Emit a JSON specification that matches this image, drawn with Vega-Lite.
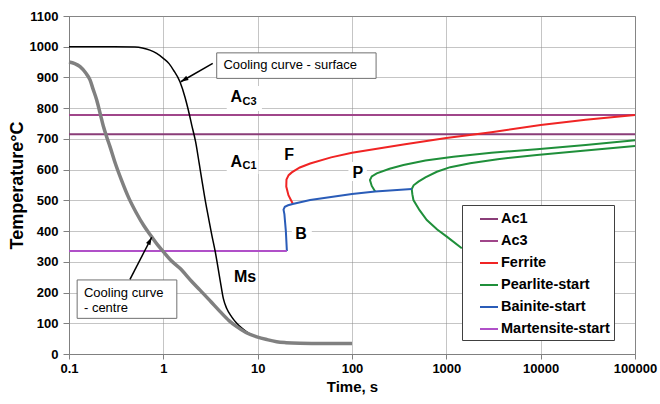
{
  "$schema": "https://vega.github.io/schema/vega-lite/v6.json",
  "width": 566,
  "height": 338,
  "autosize": {"type": "none"},
  "padding": {"left": 69, "top": 16, "right": 25, "bottom": 50},
  "background": "white",
  "config": {
    "font": "Liberation Sans",
    "view": {"stroke": "#808080", "strokeWidth": 1},
    "axis": {
      "gridColor": "#8a8a8a", "gridDash": [1, 1], "gridWidth": 1,
      "domainColor": "#808080", "tickColor": "#808080",
      "labelFont": "Liberation Sans", "labelFontWeight": "bold", "labelFontSize": 13, "labelColor": "#000000",
      "titleFont": "Liberation Sans", "titleFontWeight": "bold", "titleColor": "#000000"
    },
    "legend": {
      "fillColor": "white", "strokeColor": "#404040", "padding": 4,
      "symbolType": "stroke", "symbolSize": 324, "symbolStrokeWidth": 2, "symbolOffset": 13,
      "labelFont": "Liberation Sans", "labelFontSize": 14.5, "labelFontWeight": "bold", "labelColor": "#000000",
      "rowPadding": 5, "labelOffset": 2
    }
  },
  "datasets": {
    "masks": [
      {"t1": 4.7, "t2": 11.1, "T1": 791, "T2": 872},
      {"t1": 4.7, "t2": 10.2, "T1": 586, "T2": 664},
      {"t1": 23, "t2": 37.5, "T1": 368, "T2": 423},
      {"t1": 91.6, "t2": 143.6, "T1": 563, "T2": 625}
    ],
    "boxes": [
      {"t1": 3.68, "t2": 180, "T1": 897, "T2": 980},
      {"t1": 0.122, "t2": 1.39, "T1": 116, "T2": 241}
    ],
    "curves": [
      {"s": "Ac1", "b": "a1", "i": 0, "t": 0.1, "T": 715},
      {"s": "Ac1", "b": "a1", "i": 1, "t": 100000, "T": 715},
      {"s": "Ac3", "b": "a3", "i": 0, "t": 0.1, "T": 778},
      {"s": "Ac3", "b": "a3", "i": 1, "t": 100000, "T": 778},
      {"s": "Ferrite", "b": "f", "i": 0, "t": 23.5, "T": 490},
      {"s": "Ferrite", "b": "f", "i": 1, "t": 21.2, "T": 517},
      {"s": "Ferrite", "b": "f", "i": 2, "t": 20.1, "T": 545},
      {"s": "Ferrite", "b": "f", "i": 3, "t": 20.2, "T": 568},
      {"s": "Ferrite", "b": "f", "i": 4, "t": 21.3, "T": 582},
      {"s": "Ferrite", "b": "f", "i": 5, "t": 23, "T": 591},
      {"s": "Ferrite", "b": "f", "i": 6, "t": 28, "T": 607},
      {"s": "Ferrite", "b": "f", "i": 7, "t": 36, "T": 620},
      {"s": "Ferrite", "b": "f", "i": 8, "t": 60, "T": 640},
      {"s": "Ferrite", "b": "f", "i": 9, "t": 100, "T": 655},
      {"s": "Ferrite", "b": "f", "i": 10, "t": 351, "T": 682},
      {"s": "Ferrite", "b": "f", "i": 11, "t": 1000, "T": 703},
      {"s": "Ferrite", "b": "f", "i": 12, "t": 3000, "T": 722},
      {"s": "Ferrite", "b": "f", "i": 13, "t": 10000, "T": 745},
      {"s": "Ferrite", "b": "f", "i": 14, "t": 30000, "T": 762},
      {"s": "Ferrite", "b": "f", "i": 15, "t": 100000, "T": 778},
      {"s": "Pearlite-start", "b": "p1", "i": 0, "t": 176, "T": 529},
      {"s": "Pearlite-start", "b": "p1", "i": 1, "t": 162, "T": 547},
      {"s": "Pearlite-start", "b": "p1", "i": 2, "t": 155, "T": 566},
      {"s": "Pearlite-start", "b": "p1", "i": 3, "t": 162, "T": 578},
      {"s": "Pearlite-start", "b": "p1", "i": 4, "t": 183, "T": 588},
      {"s": "Pearlite-start", "b": "p1", "i": 5, "t": 250, "T": 603},
      {"s": "Pearlite-start", "b": "p1", "i": 6, "t": 351, "T": 615},
      {"s": "Pearlite-start", "b": "p1", "i": 7, "t": 600, "T": 630},
      {"s": "Pearlite-start", "b": "p1", "i": 8, "t": 1189, "T": 642},
      {"s": "Pearlite-start", "b": "p1", "i": 9, "t": 3000, "T": 655},
      {"s": "Pearlite-start", "b": "p1", "i": 10, "t": 9120, "T": 666},
      {"s": "Pearlite-start", "b": "p1", "i": 11, "t": 30000, "T": 680},
      {"s": "Pearlite-start", "b": "p1", "i": 12, "t": 100000, "T": 696},
      {"s": "Pearlite-start", "b": "p2", "i": 0, "t": 1459, "T": 344},
      {"s": "Pearlite-start", "b": "p2", "i": 1, "t": 1011, "T": 382},
      {"s": "Pearlite-start", "b": "p2", "i": 2, "t": 800, "T": 405},
      {"s": "Pearlite-start", "b": "p2", "i": 3, "t": 621, "T": 436},
      {"s": "Pearlite-start", "b": "p2", "i": 4, "t": 520, "T": 468},
      {"s": "Pearlite-start", "b": "p2", "i": 5, "t": 448, "T": 501},
      {"s": "Pearlite-start", "b": "p2", "i": 6, "t": 436, "T": 520},
      {"s": "Pearlite-start", "b": "p2", "i": 7, "t": 430, "T": 537},
      {"s": "Pearlite-start", "b": "p2", "i": 8, "t": 450, "T": 549},
      {"s": "Pearlite-start", "b": "p2", "i": 9, "t": 506, "T": 561},
      {"s": "Pearlite-start", "b": "p2", "i": 10, "t": 600, "T": 575},
      {"s": "Pearlite-start", "b": "p2", "i": 11, "t": 793, "T": 593},
      {"s": "Pearlite-start", "b": "p2", "i": 12, "t": 1100, "T": 608},
      {"s": "Pearlite-start", "b": "p2", "i": 13, "t": 1786, "T": 621},
      {"s": "Pearlite-start", "b": "p2", "i": 14, "t": 3500, "T": 634},
      {"s": "Pearlite-start", "b": "p2", "i": 15, "t": 9120, "T": 648},
      {"s": "Pearlite-start", "b": "p2", "i": 16, "t": 30000, "T": 662},
      {"s": "Pearlite-start", "b": "p2", "i": 17, "t": 100000, "T": 677},
      {"s": "Bainite-start", "b": "b", "i": 0, "t": 20.4, "T": 335},
      {"s": "Bainite-start", "b": "b", "i": 1, "t": 19.9, "T": 400},
      {"s": "Bainite-start", "b": "b", "i": 2, "t": 19.2, "T": 455},
      {"s": "Bainite-start", "b": "b", "i": 3, "t": 18.8, "T": 470},
      {"s": "Bainite-start", "b": "b", "i": 4, "t": 19.4, "T": 479},
      {"s": "Bainite-start", "b": "b", "i": 5, "t": 21, "T": 484},
      {"s": "Bainite-start", "b": "b", "i": 6, "t": 23.5, "T": 488},
      {"s": "Bainite-start", "b": "b", "i": 7, "t": 36, "T": 501},
      {"s": "Bainite-start", "b": "b", "i": 8, "t": 100, "T": 521},
      {"s": "Bainite-start", "b": "b", "i": 9, "t": 176, "T": 529},
      {"s": "Bainite-start", "b": "b", "i": 10, "t": 430, "T": 537},
      {"s": "Martensite-start", "b": "m", "i": 0, "t": 0.1, "T": 335},
      {"s": "Martensite-start", "b": "m", "i": 1, "t": 20.4, "T": 335}
    ],
    "cooling": [
      {"c": "surface", "t": 0.1, "T": 1000},
      {"c": "surface", "t": 0.3, "T": 1000},
      {"c": "surface", "t": 0.5, "T": 999},
      {"c": "surface", "t": 0.6, "T": 996},
      {"c": "surface", "t": 0.72, "T": 989},
      {"c": "surface", "t": 0.85, "T": 978},
      {"c": "surface", "t": 1.0, "T": 962},
      {"c": "surface", "t": 1.15, "T": 945},
      {"c": "surface", "t": 1.28, "T": 924},
      {"c": "surface", "t": 1.5, "T": 886},
      {"c": "surface", "t": 1.7, "T": 835},
      {"c": "surface", "t": 1.84, "T": 794},
      {"c": "surface", "t": 2.0, "T": 745},
      {"c": "surface", "t": 2.2, "T": 690},
      {"c": "surface", "t": 2.4, "T": 620},
      {"c": "surface", "t": 2.55, "T": 570},
      {"c": "surface", "t": 2.8, "T": 495},
      {"c": "surface", "t": 3.0, "T": 446},
      {"c": "surface", "t": 3.25, "T": 390},
      {"c": "surface", "t": 3.55, "T": 333},
      {"c": "surface", "t": 4.0, "T": 240},
      {"c": "surface", "t": 4.33, "T": 180},
      {"c": "surface", "t": 4.7, "T": 148},
      {"c": "surface", "t": 5.3, "T": 121},
      {"c": "surface", "t": 6.0, "T": 100},
      {"c": "surface", "t": 6.8, "T": 84},
      {"c": "surface", "t": 8.0, "T": 68},
      {"c": "surface", "t": 9.8, "T": 56},
      {"c": "surface", "t": 12.5, "T": 46},
      {"c": "surface", "t": 15.9, "T": 40},
      {"c": "surface", "t": 25, "T": 36},
      {"c": "surface", "t": 50, "T": 34},
      {"c": "surface", "t": 100, "T": 33},
      {"c": "centre", "t": 0.1, "T": 950},
      {"c": "centre", "t": 0.115, "T": 945},
      {"c": "centre", "t": 0.131, "T": 935},
      {"c": "centre", "t": 0.15, "T": 915},
      {"c": "centre", "t": 0.167, "T": 892},
      {"c": "centre", "t": 0.18, "T": 862},
      {"c": "centre", "t": 0.197, "T": 826},
      {"c": "centre", "t": 0.215, "T": 780},
      {"c": "centre", "t": 0.231, "T": 742},
      {"c": "centre", "t": 0.25, "T": 708},
      {"c": "centre", "t": 0.272, "T": 675},
      {"c": "centre", "t": 0.31, "T": 620},
      {"c": "centre", "t": 0.36, "T": 566},
      {"c": "centre", "t": 0.43, "T": 508},
      {"c": "centre", "t": 0.52, "T": 458},
      {"c": "centre", "t": 0.62, "T": 418},
      {"c": "centre", "t": 0.75, "T": 382},
      {"c": "centre", "t": 0.87, "T": 355},
      {"c": "centre", "t": 1.0, "T": 333},
      {"c": "centre", "t": 1.2, "T": 305},
      {"c": "centre", "t": 1.5, "T": 279},
      {"c": "centre", "t": 2.0, "T": 236},
      {"c": "centre", "t": 2.45, "T": 208},
      {"c": "centre", "t": 3.2, "T": 170},
      {"c": "centre", "t": 4.0, "T": 138},
      {"c": "centre", "t": 5.0, "T": 108},
      {"c": "centre", "t": 6.0, "T": 89},
      {"c": "centre", "t": 7.5, "T": 70},
      {"c": "centre", "t": 9.8, "T": 56},
      {"c": "centre", "t": 12.5, "T": 47},
      {"c": "centre", "t": 15.9, "T": 40},
      {"c": "centre", "t": 20, "T": 37},
      {"c": "centre", "t": 28, "T": 35},
      {"c": "centre", "t": 50, "T": 34},
      {"c": "centre", "t": 100, "T": 34}
    ],
    "arrows": [
      {"t1": 3.34, "T1": 946, "t2": 1.53, "T2": 886},
      {"t1": 0.443, "T1": 243, "t2": 0.753, "T2": 380}
    ],
    "letters": [
      {"label": "A", "t": 5.93, "T": 836},
      {"label": "A", "t": 5.93, "T": 626},
      {"label": "F", "t": 21.5, "T": 648},
      {"label": "P", "t": 115, "T": 590},
      {"label": "B", "t": 28.8, "T": 391},
      {"label": "Ms", "t": 7.35, "T": 249}
    ],
    "subs": [
      {"label": "C3", "t": 6.92, "T": 820},
      {"label": "C1", "t": 6.92, "T": 613}
    ],
    "notes": [
      {"label": "Cooling curve - surface", "t": 4.33, "T": 939},
      {"label": "Cooling curve", "t": 0.144, "T": 198},
      {"label": "- centre", "t": 0.144, "T": 151}
    ]
  },
  "encoding": {
    "x": {"field": "t", "type": "quantitative", "title": "Time, s",
      "scale": {"type": "log", "domain": [0.1, 100000], "nice": false},
      "axis": {"values": [0.1, 1, 10, 100, 1000, 10000, 100000],
        "labelExpr": "datum.value < 1 ? '0.1' : format(datum.value, 'd')",
        "tickSize": 5, "labelPadding": 3, "titleFontSize": 15, "titlePadding": 4, "grid": true, "labelFlush": false, "labelOverlap": false}},
    "y": {"field": "T", "type": "quantitative", "title": "Temperature°C",
      "scale": {"domain": [0, 1100], "nice": false},
      "axis": {"values": [0, 100, 200, 300, 400, 500, 600, 700, 800, 900, 1000, 1100],
        "format": "d", "labelOverlap": false,
        "tickSize": 6, "labelPadding": 5, "titleFontSize": 18, "titlePadding": 3, "grid": true}}
  },
  "layer": [
    {
      "data": {"name": "masks"},
      "mark": {"type": "rect", "fill": "white", "strokeWidth": 0},
      "encoding": {
        "x": {"field": "t1", "type": "quantitative", "title": "Time, s",
          "scale": {"type": "log", "domain": [0.1, 100000], "nice": false},
          "axis": {"values": [0.1, 1, 10, 100, 1000, 10000, 100000],
            "labelExpr": "datum.value < 1 ? '0.1' : format(datum.value, 'd')",
            "tickSize": 5, "labelPadding": 3, "titleFontSize": 15, "titlePadding": 4, "grid": true, "labelFlush": false, "labelOverlap": false}},
        "x2": {"field": "t2"},
        "y": {"field": "T1", "type": "quantitative", "title": "Temperature°C",
          "scale": {"domain": [0, 1100], "nice": false},
          "axis": {"values": [0, 100, 200, 300, 400, 500, 600, 700, 800, 900, 1000, 1100],
            "format": "d", "labelOverlap": false,
            "tickSize": 6, "labelPadding": 5, "titleFontSize": 18, "titlePadding": 3, "grid": true}},
        "y2": {"field": "T2"}
      }
    },
    {
      "data": {"name": "boxes"},
      "mark": {"type": "rect", "fill": "white", "stroke": "#707070", "strokeWidth": 1},
      "encoding": {
        "x": {"field": "t1", "type": "quantitative", "title": "Time, s",
          "scale": {"type": "log", "domain": [0.1, 100000], "nice": false},
          "axis": {"values": [0.1, 1, 10, 100, 1000, 10000, 100000],
            "labelExpr": "datum.value < 1 ? '0.1' : format(datum.value, 'd')",
            "tickSize": 5, "labelPadding": 3, "titleFontSize": 15, "titlePadding": 4, "grid": true, "labelFlush": false, "labelOverlap": false}},
        "x2": {"field": "t2"},
        "y": {"field": "T1", "type": "quantitative", "title": "Temperature°C",
          "scale": {"domain": [0, 1100], "nice": false},
          "axis": {"values": [0, 100, 200, 300, 400, 500, 600, 700, 800, 900, 1000, 1100],
            "format": "d", "labelOverlap": false,
            "tickSize": 6, "labelPadding": 5, "titleFontSize": 18, "titlePadding": 3, "grid": true}},
        "y2": {"field": "T2"}
      }
    },
    {
      "data": {"name": "curves"},
      "mark": {"type": "line", "strokeWidth": 2},
      "encoding": {
        "color": {"field": "s", "type": "nominal",
          "scale": {"domain": ["Ac1", "Ac3", "Ferrite", "Pearlite-start", "Bainite-start", "Martensite-start"],
            "range": ["#8a3d78", "#a0468a", "#f02424", "#1f8f3a", "#2a5cb8", "#b050c8"]},
          "legend": {"orient": "none", "legendX": 393, "legendY": 189, "title": null}},
        "detail": {"field": "b"},
        "order": {"field": "i", "type": "quantitative"}
      }
    },
    {
      "data": {"name": "cooling"},
      "transform": [{"filter": "datum.c == 'surface'"}],
      "mark": {"type": "line", "color": "#000000", "strokeWidth": 1.5, "interpolate": "monotone"},
      "encoding": {}
    },
    {
      "data": {"name": "cooling"},
      "transform": [{"filter": "datum.c == 'centre'"}],
      "mark": {"type": "line", "color": "#808080", "strokeWidth": 3.5, "interpolate": "monotone"},
      "encoding": {}
    },
    {
      "data": {"name": "arrows"},
      "mark": {"type": "rule", "color": "#000000", "strokeWidth": 1.5},
      "encoding": {
        "x": {"field": "t1", "type": "quantitative", "title": "Time, s",
          "scale": {"type": "log", "domain": [0.1, 100000], "nice": false},
          "axis": {"values": [0.1, 1, 10, 100, 1000, 10000, 100000],
            "labelExpr": "datum.value < 1 ? '0.1' : format(datum.value, 'd')",
            "tickSize": 5, "labelPadding": 3, "titleFontSize": 15, "titlePadding": 4, "grid": true, "labelFlush": false, "labelOverlap": false}},
        "x2": {"field": "t2"},
        "y": {"field": "T1", "type": "quantitative", "title": "Temperature°C",
          "scale": {"domain": [0, 1100], "nice": false},
          "axis": {"values": [0, 100, 200, 300, 400, 500, 600, 700, 800, 900, 1000, 1100],
            "format": "d", "labelOverlap": false,
            "tickSize": 6, "labelPadding": 5, "titleFontSize": 18, "titlePadding": 3, "grid": true}},
        "y2": {"field": "T2"}
      }
    },
    {
      "data": {"name": "arrows"},
      "transform": [{"filter": "datum.T2 > 800"}],
      "mark": {"type": "point", "shape": "M0,0L0.7,2.2L-0.7,2.2Z", "filled": true, "color": "#000000", "opacity": 1, "size": 49, "angle": 240},
      "encoding": {
        "x": {"field": "t2", "type": "quantitative", "title": "Time, s",
          "scale": {"type": "log", "domain": [0.1, 100000], "nice": false},
          "axis": {"values": [0.1, 1, 10, 100, 1000, 10000, 100000],
            "labelExpr": "datum.value < 1 ? '0.1' : format(datum.value, 'd')",
            "tickSize": 5, "labelPadding": 3, "titleFontSize": 15, "titlePadding": 4, "grid": true, "labelFlush": false, "labelOverlap": false}},
        "y": {"field": "T2", "type": "quantitative", "title": "Temperature°C",
          "scale": {"domain": [0, 1100], "nice": false},
          "axis": {"values": [0, 100, 200, 300, 400, 500, 600, 700, 800, 900, 1000, 1100],
            "format": "d", "labelOverlap": false,
            "tickSize": 6, "labelPadding": 5, "titleFontSize": 18, "titlePadding": 3, "grid": true}}
      }
    },
    {
      "data": {"name": "arrows"},
      "transform": [{"filter": "datum.T2 < 800"}],
      "mark": {"type": "point", "shape": "M0,0L0.7,2.2L-0.7,2.2Z", "filled": true, "color": "#000000", "opacity": 1, "size": 49, "angle": 27},
      "encoding": {
        "x": {"field": "t2", "type": "quantitative", "title": "Time, s",
          "scale": {"type": "log", "domain": [0.1, 100000], "nice": false},
          "axis": {"values": [0.1, 1, 10, 100, 1000, 10000, 100000],
            "labelExpr": "datum.value < 1 ? '0.1' : format(datum.value, 'd')",
            "tickSize": 5, "labelPadding": 3, "titleFontSize": 15, "titlePadding": 4, "grid": true, "labelFlush": false, "labelOverlap": false}},
        "y": {"field": "T2", "type": "quantitative", "title": "Temperature°C",
          "scale": {"domain": [0, 1100], "nice": false},
          "axis": {"values": [0, 100, 200, 300, 400, 500, 600, 700, 800, 900, 1000, 1100],
            "format": "d", "labelOverlap": false,
            "tickSize": 6, "labelPadding": 5, "titleFontSize": 18, "titlePadding": 3, "grid": true}}
      }
    },
    {
      "data": {"name": "letters"},
      "mark": {"type": "text", "font": "Liberation Sans", "fontWeight": "bold", "fontSize": 16, "align": "center", "baseline": "middle", "color": "#000000"},
      "encoding": {"text": {"field": "label"}}
    },
    {
      "data": {"name": "subs"},
      "mark": {"type": "text", "font": "Liberation Sans", "fontWeight": "bold", "fontSize": 11, "align": "left", "baseline": "middle", "color": "#000000"},
      "encoding": {"text": {"field": "label"}}
    },
    {
      "data": {"name": "notes"},
      "mark": {"type": "text", "font": "Liberation Sans", "fontSize": 13, "align": "left", "baseline": "middle", "color": "#000000"},
      "encoding": {"text": {"field": "label"}}
    }
  ]
}
